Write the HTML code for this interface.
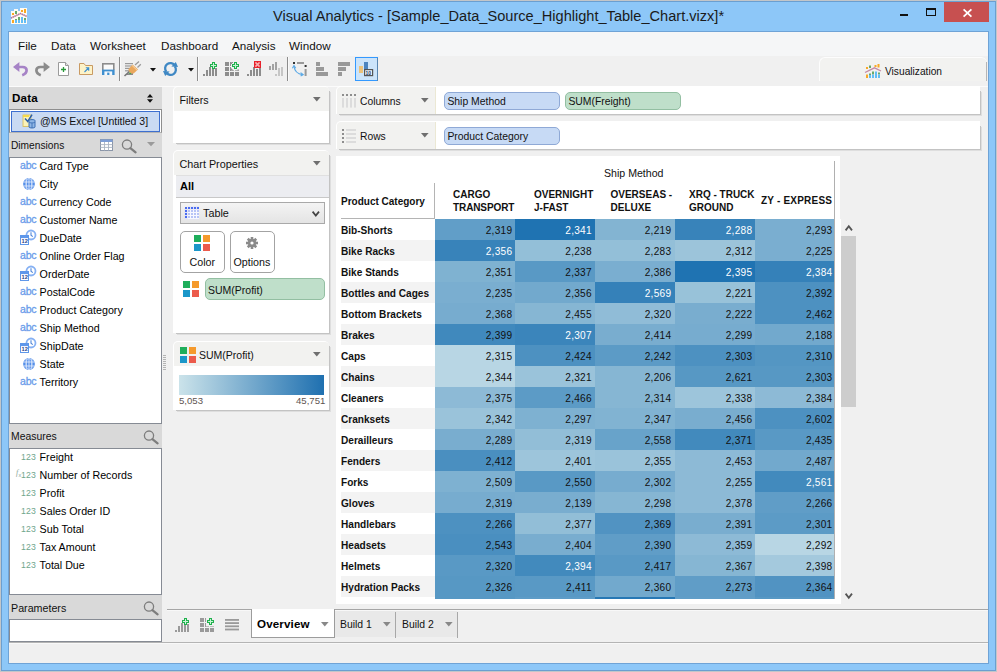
<!DOCTYPE html>
<html><head><meta charset="utf-8"><title>Visual Analytics</title>
<style>
html,body{margin:0;padding:0;}
body{width:997px;height:672px;position:relative;overflow:hidden;background:#8dc7f8;font-family:"Liberation Sans",sans-serif;}
body div, body svg{position:absolute;box-sizing:border-box;}
svg{overflow:visible;}
</style></head><body>

<div style="left:0px;top:0px;width:997px;height:672px;border:1px solid #c3c6c9;"></div>
<div style="left:1px;top:1px;width:995px;height:670px;border:1px solid #6b9fd0;"></div>
<div style="left:8px;top:31px;width:981px;height:633px;border:1px solid #6fa3d6;background:#f0f0f0;"></div>
<svg style="left:11px;top:8px" width="16" height="16" viewBox="0 0 16 16"><rect x="0" y="3" width="16" height="13" fill="#fdfbf5"/><rect x="3" y="1" width="4" height="3" fill="#fdfbf5"/><rect x="9" y="0" width="7" height="4" fill="#fdfbf5"/>
<rect x="1" y="5" width="2" height="2" fill="#f9a825"/><rect x="4" y="3" width="2" height="3" fill="#6aa96a"/><rect x="10" y="2" width="2" height="2" fill="#f9a825"/><rect x="13" y="1" width="2" height="4" fill="#f9a825"/>
<path d="M0 10 L9.5 5.5 L16 8.5" stroke="#f3b49a" stroke-width="1.4" fill="none"/><path d="M0 10 L9.5 5.5 L16 8.5" stroke="#8a6ec8" stroke-width="1.4" stroke-dasharray="1 1" fill="none"/>
<rect x="1" y="12" width="2" height="3" fill="#f9a825"/><rect x="4" y="11" width="2" height="1.5" fill="#6aa96a"/><rect x="4" y="12" width="2" height="3" fill="#62bdf5"/>
<rect x="7" y="9" width="2" height="3" fill="#6aa96a"/><rect x="7" y="12" width="2" height="3" fill="#62bdf5"/>
<rect x="10" y="9" width="2" height="6" fill="#62bdf5"/><rect x="13" y="10" width="2" height="2" fill="#6aa96a"/><rect x="13" y="12" width="2" height="3" fill="#62bdf5"/></svg>
<div style="left:273px;top:7.15px;font-size:14.58px;line-height:19px;color:#1b1b1b;white-space:nowrap;">Visual Analytics - [Sample_Data_Source_Highlight_Table_Chart.vizx]*</div>
<div style="left:900px;top:14px;width:8px;height:2px;background:#111;"></div>
<div style="left:926px;top:8px;width:10px;height:8px;border:1px solid #111;border-top-width:2px;"></div>
<div style="left:944px;top:2px;width:45px;height:20px;background:#c75050;"></div>
<svg style="left:963px;top:8.5px" width="9" height="8" viewBox="0 0 9 8"><path d="M0.6 0.4 L8.4 7.6 M8.4 0.4 L0.6 7.6" stroke="#fff" stroke-width="1.8" fill="none"/></svg>
<div style="left:9px;top:32px;width:979px;height:24px;background:#f5f6f7;"></div>
<div style="left:18px;top:38.05px;font-size:11.7px;line-height:15px;color:#111;white-space:nowrap;">File</div>
<div style="left:51px;top:38.05px;font-size:11.7px;line-height:15px;color:#111;white-space:nowrap;">Data</div>
<div style="left:90px;top:38.05px;font-size:11.7px;line-height:15px;color:#111;white-space:nowrap;">Worksheet</div>
<div style="left:161px;top:38.05px;font-size:11.7px;line-height:15px;color:#111;white-space:nowrap;">Dashboard</div>
<div style="left:232px;top:38.05px;font-size:11.7px;line-height:15px;color:#111;white-space:nowrap;">Analysis</div>
<div style="left:289px;top:38.05px;font-size:11.7px;line-height:15px;color:#111;white-space:nowrap;">Window</div>
<div style="left:9px;top:56px;width:979px;height:31px;background:#f0f0f0;"></div>
<div style="left:9px;top:86px;width:979px;height:1px;background:#fbfbfb;"></div>
<div style="left:119px;top:57px;width:1px;height:24px;background:#8c8c8c;"></div>
<div style="left:120px;top:57px;width:1px;height:24px;background:#fafafa;"></div>
<div style="left:197px;top:57px;width:1px;height:24px;background:#8c8c8c;"></div>
<div style="left:198px;top:57px;width:1px;height:24px;background:#fafafa;"></div>
<div style="left:287px;top:57px;width:1px;height:24px;background:#8c8c8c;"></div>
<div style="left:288px;top:57px;width:1px;height:24px;background:#fafafa;"></div>
<svg style="left:13px;top:62px" width="15" height="14" viewBox="0 0 15 14"><path d="M6.4 0 L0 5 L6.4 10 Z" fill="#a683c6"/><path d="M5.5 5 H9.6 C14.6 5 15.4 11 9.2 13.2" stroke="#a683c6" stroke-width="2.7" fill="none"/></svg>
<svg style="left:35px;top:62px" width="15" height="14" viewBox="0 0 15 14"><path d="M8.6 0 L15 5 L8.6 10 Z" fill="#8b8b8b"/><path d="M9.5 5 H5.4 C0.4 5 -0.4 11 5.8 13.2" stroke="#8b8b8b" stroke-width="2.7" fill="none"/></svg>
<svg style="left:58px;top:62px" width="12" height="14" viewBox="0 0 12 14"><path d="M0.5 0.5 H7.5 L10.5 3.5 V13.5 H0.5 Z" fill="#fff" stroke="#9b9b9b"/><path d="M7.5 0.5 V3.5 H10.5" fill="#e4e4e4" stroke="#9b9b9b"/><path d="M5.5 5 V10 M3 7.5 H8" stroke="#2a9a3a" stroke-width="1.3"/></svg>
<svg style="left:79px;top:63px" width="14" height="12" viewBox="0 0 14 12"><path d="M0.5 0.5 H5 L6.5 2.5 H13.5 V11.5 H0.5 Z" fill="#fdf3c8" stroke="#c99a62"/><path d="M5.5 9 L9.5 5 M6.8 4.8 H9.7 V7.7" stroke="#3b8fd0" stroke-width="1.1" fill="none"/></svg>
<svg style="left:102px;top:63px" width="13" height="12" viewBox="0 0 13 12"><path d="M0 0 H12.6 V7 H0 Z" fill="#8c8c8c"/><rect x="1.6" y="1.6" width="9.4" height="5.4" fill="#fafafa"/><path d="M0 6.6 H12.6 V12 H0 Z" fill="#3f8fcf"/><rect x="2.4" y="8.4" width="7.8" height="3.6" fill="#f4f8fc"/><rect x="5.2" y="9.6" width="2.2" height="2.4" fill="#3f8fcf"/></svg>
<svg style="left:124px;top:61px" width="17" height="16" viewBox="0 0 17 16"><rect x="1" y="2" width="8" height="1.2" fill="#9a9a9a"/><rect x="1" y="4.4" width="8" height="1.2" fill="#9a9a9a"/><rect x="1" y="6.8" width="6" height="1.2" fill="#9a9a9a"/><rect x="1" y="9.2" width="5" height="1.2" fill="#9a9a9a"/>
<path d="M1 14 L9 14 L9 10 Z" fill="#8a8a8a"/><path d="M0.5 15 L7 9" stroke="#777" stroke-width="1.6"/><rect x="5.5" y="11.5" width="1.4" height="1.4" fill="#2cc02c"/>
<path d="M11 4 L15 0.5 M13.5 6.5 L16.8 3.2" stroke="#9a9a9a" stroke-width="1.3"/>
<path d="M4.5 8.2 L8.6 3.4 L14 8.6 L9.6 12.4 C7.5 13.2 4.2 10.6 4.5 8.2 Z" fill="#eaa75c"/><path d="M8 4.4 L13 9.2" stroke="#f8d7a8" stroke-width="1"/></svg>
<svg style="left:150px;top:68px" width="6" height="3" viewBox="0 0 6 3"><path d="M0 0 H6 L3 3.4 Z" fill="#111"/></svg>
<svg style="left:163px;top:62px" width="15" height="14" viewBox="0 0 15 14"><path d="M11.6 3.2 A5.2 5.2 0 0 0 3.2 9.6" stroke="#3f88c4" stroke-width="2.3" fill="none"/><path d="M0 9 L6.6 9.4 L2.2 14 Z" fill="#3f88c4"/>
<path d="M3.4 10.8 A5.2 5.2 0 0 0 11.8 4.4" stroke="#3f88c4" stroke-width="2.3" fill="none"/><path d="M15 5 L8.4 4.6 L12.8 0 Z" fill="#3f88c4"/></svg>
<svg style="left:188px;top:68px" width="6" height="3" viewBox="0 0 6 3"><path d="M0 0 H6 L3 3.4 Z" fill="#111"/></svg>
<svg style="left:203px;top:62px" width="14" height="14" viewBox="0 0 14 14"><rect x="0" y="12" width="2" height="2" fill="#8d8d8d"/><rect x="3" y="8" width="2" height="6" fill="#8d8d8d"/><rect x="6" y="5" width="2" height="9" fill="#8d8d8d"/><rect x="9" y="7" width="2" height="7" fill="#8d8d8d"/><rect x="12" y="6" width="2" height="8" fill="#8d8d8d"/><path d="M9 0 h3 v2 h2 v3 h-2 v2 h-3 v-2 h-2 v-3 h2 z" fill="#1fb14c"/><path d="M10 1 h1 v2 h2 v1 h-2 v2 h-1 v-2 h-2 v-1 h2 z" fill="#c9f2d6"/></svg>
<svg style="left:225px;top:62px" width="14" height="14" viewBox="0 0 14 14"><rect x="0" y="0" width="4" height="4" fill="#8d8d8d"/><rect x="5" y="0" width="4" height="4" fill="#8d8d8d"/><rect x="10" y="0" width="4" height="4" fill="#8d8d8d"/><rect x="0" y="5" width="4" height="4" fill="#8d8d8d"/><rect x="5" y="5" width="4" height="4" fill="#8d8d8d"/><rect x="10" y="5" width="4" height="4" fill="#8d8d8d"/><rect x="0" y="10" width="4" height="4" fill="#8d8d8d"/><rect x="5" y="10" width="4" height="4" fill="#8d8d8d"/><rect x="10" y="10" width="4" height="4" fill="#8d8d8d"/><rect x="6" y="0" width="8.4" height="8.4" fill="#f0f0f0"/><path d="M6.5 0.5 H8 M6.5 0.5 V2 M6.5 8 V6.5 M6.5 8 H8 M14 8 H12.5" stroke="#8d8d8d" stroke-width="1" fill="none"/><path d="M9 0 h3 v2 h2 v3 h-2 v2 h-3 v-2 h-2 v-3 h2 z" fill="#1fb14c"/><path d="M10 1 h1 v2 h2 v1 h-2 v2 h-1 v-2 h-2 v-1 h2 z" fill="#c9f2d6"/></svg>
<svg style="left:247px;top:62px" width="14" height="14" viewBox="0 0 14 14"><rect x="0" y="12" width="2" height="2" fill="#8d8d8d"/><rect x="3" y="8" width="2" height="6" fill="#8d8d8d"/><rect x="6" y="5" width="2" height="9" fill="#8d8d8d"/><rect x="9" y="7" width="2" height="7" fill="#8d8d8d"/><rect x="12" y="6" width="2" height="8" fill="#8d8d8d"/><rect x="7" y="-1" width="7" height="7" fill="#e8212b"/><path d="M8.4 0.4 L12.6 4.6 M12.6 0.4 L8.4 4.6" stroke="#f8b0b0" stroke-width="1.5"/></svg>
<svg style="left:269px;top:62px" width="14" height="14" viewBox="0 0 14 14"><rect x="0" y="4" width="2" height="4" fill="#a2a2a2"/><rect x="3" y="2" width="2" height="6" fill="#a2a2a2"/><rect x="6" y="0" width="2" height="8" fill="#a2a2a2"/><rect x="6" y="12" width="2" height="2" fill="#c6c6c6"/><rect x="9" y="6" width="2" height="8" fill="#c6c6c6"/><rect x="12" y="5" width="2" height="9" fill="#c6c6c6"/></svg>
<svg style="left:292px;top:62px" width="15" height="14" viewBox="0 0 15 14"><rect x="1" y="0" width="2" height="2" fill="#333"/><rect x="5" y="0" width="7" height="2" fill="#9a9a9a"/><rect x="12.6" y="3" width="2" height="2" fill="#333"/><rect x="12.6" y="7" width="2" height="7" fill="#9a9a9a"/>
<path d="M2 4.5 C2.6 9.4 6 12 10.6 12.6" stroke="#5aa9e6" stroke-width="1.1" fill="none"/><path d="M0.4 6.2 L2 3.6 L3.8 6.2" stroke="#5aa9e6" stroke-width="1.1" fill="none"/><path d="M8.6 10.6 L11.2 12.6 L8.6 14" stroke="#5aa9e6" stroke-width="1.1" fill="none"/></svg>
<svg style="left:316px;top:62px" width="12" height="14" viewBox="0 0 12 14"><rect x="0" y="0" width="4" height="4" fill="#999"/><rect x="0" y="5" width="8" height="4" fill="#999"/><rect x="0" y="10" width="12" height="4" fill="#999"/></svg>
<svg style="left:338px;top:62px" width="12" height="14" viewBox="0 0 12 14"><rect x="0" y="0" width="12" height="4" fill="#999"/><rect x="0" y="5" width="8" height="4" fill="#999"/><rect x="0" y="10" width="4" height="4" fill="#999"/></svg>
<div style="left:355px;top:57px;width:23px;height:24px;border:1px solid #3399ff;background:#cce4fa;"></div>
<div style="left:377px;top:58px;width:1px;height:23px;background:#5a86b0;"></div>
<svg style="left:359px;top:62px" width="15" height="15" viewBox="0 0 15 15"><rect x="0" y="4" width="4" height="7" fill="#ecc27a"/><rect x="5" y="0" width="4" height="9" fill="#4d84be"/><rect x="5.6" y="7.6" width="8" height="6" fill="#eef4fb" stroke="#555" stroke-width="1.2"/><text x="6.6" y="12.6" font-size="5" font-weight="700" fill="#223a66" font-family="Liberation Sans">10</text></svg>
<div style="left:819px;top:57px;width:168px;height:24px;background:#f2f2f0;border-top:1px solid #fdfdfd;border-left:1px solid #fdfdfd;border-top-left-radius:6px;border-top-right-radius:6px;"></div>
<div style="left:986px;top:62px;width:1px;height:19px;background:#b5b5b5;"></div>
<svg style="left:865px;top:64px" width="16" height="14" viewBox="0 0 16 14"><rect x="1" y="3" width="2" height="2" fill="#f9a825"/><rect x="4" y="1.5" width="2" height="2.5" fill="#6aa96a"/><rect x="9.5" y="1" width="2" height="2" fill="#f9a825"/><rect x="12.5" y="0" width="2" height="3.5" fill="#f9a825"/>
<path d="M0 8.5 L9.5 3.8 L16 7" stroke="#c58aa6" stroke-width="1.3" fill="none"/>
<rect x="1" y="10.5" width="2" height="3.5" fill="#f9a825"/><rect x="4" y="9.5" width="2" height="1.5" fill="#6aa96a"/><rect x="4" y="11" width="2" height="3" fill="#62bdf5"/>
<rect x="7" y="7.5" width="2" height="3" fill="#6aa96a"/><rect x="7" y="10.5" width="2" height="3.5" fill="#62bdf5"/>
<rect x="10" y="7.5" width="2" height="6.5" fill="#62bdf5"/><rect x="13" y="8.5" width="2" height="2" fill="#6aa96a"/><rect x="13" y="10.5" width="2" height="3.5" fill="#62bdf5"/></svg>
<div style="left:885px;top:64.67px;font-size:10.2px;line-height:13px;color:#111;white-space:nowrap;">Visualization</div>
<div style="left:9px;top:87px;width:153px;height:22px;background:#d9d9d9;"></div>
<div style="left:12px;top:90.28px;font-size:11.6px;line-height:15px;color:#000;white-space:nowrap;font-weight:700;letter-spacing:0.2px;">Data</div>
<svg style="left:147px;top:93.5px" width="6" height="9" viewBox="0 0 6 9"><path d="M3 0 L6 3.6 H0 Z M0 5.2 H6 L3 8.8 Z" fill="#111"/></svg>
<div style="left:9px;top:109px;width:153px;height:24px;background:#fff;border:1px solid #8e8e8e;border-bottom-color:#b5b5b5;"></div>
<div style="left:11px;top:111px;width:149px;height:21px;background:#c9daf3;border:1px solid #3d6fcf;"></div>
<svg style="left:23px;top:114px" width="13" height="15" viewBox="0 0 13 15"><rect x="0" y="1" width="8" height="11.5" fill="#fbf2b8" stroke="#d8b950" stroke-width="0.8"/><rect x="0" y="1" width="6" height="2" fill="#f5d94a"/>
<path d="M2 4.5 L4.8 7.5 L9 0.6" stroke="#2d5fa8" stroke-width="1.5" fill="none"/>
<path d="M6 6.5 C6 5.3 12 5.3 12 6.5 V13 C12 14.3 6 14.3 6 13 Z" fill="#8fb6e6" stroke="#3c6fb4" stroke-width="1"/><path d="M6 8 C6 9.2 12 9.2 12 8 M9 9 V14" stroke="#3c6fb4" stroke-width="0.9" fill="none"/></svg>
<div style="left:40px;top:113.56px;font-size:10.5px;line-height:14px;color:#111;white-space:nowrap;">@MS Excel [Untitled 3]</div>
<div style="left:9px;top:133px;width:153px;height:24px;background:#d9d9d9;"></div>
<div style="left:11px;top:138.57px;font-size:10.2px;line-height:13px;color:#111;white-space:nowrap;">Dimensions</div>
<svg style="left:100px;top:139px" width="13" height="12" viewBox="0 0 13 12"><rect x="0.5" y="0.5" width="12" height="11" fill="#fff" stroke="#8b96a8"/><rect x="0.5" y="0.5" width="12" height="2.5" fill="#7c9dd6"/><path d="M0.5 5.6 H12.5 M0.5 8.4 H12.5 M4.5 3 V11.5 M8.5 3 V11.5" stroke="#a9b3c2" stroke-width="0.9"/></svg>
<svg style="left:121px;top:139px" width="16" height="14" viewBox="0 0 16 14"><circle cx="6" cy="5.6" r="4.6" fill="none" stroke="#7d7d7d" stroke-width="1.3"/><path d="M9.4 9.2 L14.6 13.4" stroke="#7d7d7d" stroke-width="2.2" stroke-linecap="round"/></svg>
<svg style="left:147px;top:142px" width="8" height="4" viewBox="0 0 8 4"><path d="M0 0 H8 L4 4.2 Z" fill="#9a9a9a"/></svg>
<div style="left:9px;top:157px;width:153px;height:267px;background:#fff;border:1px solid #868b94;"></div>
<div style="left:20px;top:157.83px;font-size:10.6px;line-height:14px;color:#6a9cea;white-space:nowrap;letter-spacing:-0.25px;-webkit-text-stroke:0.3px #6a9cea;">abc</div>
<div style="left:39.6px;top:158.79px;font-size:10.7px;line-height:14px;color:#000;white-space:nowrap;">Card Type</div>
<svg style="left:22.5px;top:177.9px" width="12" height="12" viewBox="0 0 12 12"><circle cx="6" cy="6" r="5.9" fill="#558fe9"/><path d="M0.4 4 H11.6 M0.4 8 H11.6 M3.2 0.8 V11.2 M6 0.2 V11.8 M8.8 0.8 V11.2" stroke="#dfeafc" stroke-width="0.9"/><ellipse cx="6" cy="6" rx="2.9" ry="5.6" fill="none" stroke="#dfeafc" stroke-width="0.6"/></svg>
<div style="left:39.6px;top:176.79px;font-size:10.7px;line-height:14px;color:#000;white-space:nowrap;">City</div>
<div style="left:20px;top:193.83px;font-size:10.6px;line-height:14px;color:#6a9cea;white-space:nowrap;letter-spacing:-0.25px;-webkit-text-stroke:0.3px #6a9cea;">abc</div>
<div style="left:39.6px;top:194.79px;font-size:10.7px;line-height:14px;color:#000;white-space:nowrap;">Currency Code</div>
<div style="left:20px;top:211.83px;font-size:10.6px;line-height:14px;color:#6a9cea;white-space:nowrap;letter-spacing:-0.25px;-webkit-text-stroke:0.3px #6a9cea;">abc</div>
<div style="left:39.6px;top:212.79px;font-size:10.7px;line-height:14px;color:#000;white-space:nowrap;">Customer Name</div>
<svg style="left:20px;top:230.0px" width="16" height="15" viewBox="0 0 16 15"><circle cx="11" cy="5" r="4.5" fill="#fff" stroke="#86b1f3" stroke-width="1.8"/><path d="M11 2.2 V5.2 L12.8 6.6" stroke="#4f86d9" stroke-width="1.1" fill="none"/>
<rect x="0.5" y="5.5" width="8" height="9" fill="#fff" stroke="#5f97ea"/><rect x="0.5" y="5.5" width="8" height="2.6" fill="#5f97ea"/>
<text x="1.6" y="13.2" font-size="5.6" font-weight="700" fill="#1f3f8a" font-family="Liberation Sans">12</text></svg>
<div style="left:39.6px;top:230.79px;font-size:10.7px;line-height:14px;color:#000;white-space:nowrap;">DueDate</div>
<div style="left:20px;top:247.83px;font-size:10.6px;line-height:14px;color:#6a9cea;white-space:nowrap;letter-spacing:-0.25px;-webkit-text-stroke:0.3px #6a9cea;">abc</div>
<div style="left:39.6px;top:248.79px;font-size:10.7px;line-height:14px;color:#000;white-space:nowrap;">Online Order Flag</div>
<svg style="left:20px;top:266.0px" width="16" height="15" viewBox="0 0 16 15"><circle cx="11" cy="5" r="4.5" fill="#fff" stroke="#86b1f3" stroke-width="1.8"/><path d="M11 2.2 V5.2 L12.8 6.6" stroke="#4f86d9" stroke-width="1.1" fill="none"/>
<rect x="0.5" y="5.5" width="8" height="9" fill="#fff" stroke="#5f97ea"/><rect x="0.5" y="5.5" width="8" height="2.6" fill="#5f97ea"/>
<text x="1.6" y="13.2" font-size="5.6" font-weight="700" fill="#1f3f8a" font-family="Liberation Sans">12</text></svg>
<div style="left:39.6px;top:266.79px;font-size:10.7px;line-height:14px;color:#000;white-space:nowrap;">OrderDate</div>
<div style="left:20px;top:283.83px;font-size:10.6px;line-height:14px;color:#6a9cea;white-space:nowrap;letter-spacing:-0.25px;-webkit-text-stroke:0.3px #6a9cea;">abc</div>
<div style="left:39.6px;top:284.79px;font-size:10.7px;line-height:14px;color:#000;white-space:nowrap;">PostalCode</div>
<div style="left:20px;top:301.83px;font-size:10.6px;line-height:14px;color:#6a9cea;white-space:nowrap;letter-spacing:-0.25px;-webkit-text-stroke:0.3px #6a9cea;">abc</div>
<div style="left:39.6px;top:302.79px;font-size:10.7px;line-height:14px;color:#000;white-space:nowrap;">Product Category</div>
<div style="left:20px;top:319.83px;font-size:10.6px;line-height:14px;color:#6a9cea;white-space:nowrap;letter-spacing:-0.25px;-webkit-text-stroke:0.3px #6a9cea;">abc</div>
<div style="left:39.6px;top:320.79px;font-size:10.7px;line-height:14px;color:#000;white-space:nowrap;">Ship Method</div>
<svg style="left:20px;top:338.0px" width="16" height="15" viewBox="0 0 16 15"><circle cx="11" cy="5" r="4.5" fill="#fff" stroke="#86b1f3" stroke-width="1.8"/><path d="M11 2.2 V5.2 L12.8 6.6" stroke="#4f86d9" stroke-width="1.1" fill="none"/>
<rect x="0.5" y="5.5" width="8" height="9" fill="#fff" stroke="#5f97ea"/><rect x="0.5" y="5.5" width="8" height="2.6" fill="#5f97ea"/>
<text x="1.6" y="13.2" font-size="5.6" font-weight="700" fill="#1f3f8a" font-family="Liberation Sans">12</text></svg>
<div style="left:39.6px;top:338.79px;font-size:10.7px;line-height:14px;color:#000;white-space:nowrap;">ShipDate</div>
<svg style="left:22.5px;top:357.9px" width="12" height="12" viewBox="0 0 12 12"><circle cx="6" cy="6" r="5.9" fill="#558fe9"/><path d="M0.4 4 H11.6 M0.4 8 H11.6 M3.2 0.8 V11.2 M6 0.2 V11.8 M8.8 0.8 V11.2" stroke="#dfeafc" stroke-width="0.9"/><ellipse cx="6" cy="6" rx="2.9" ry="5.6" fill="none" stroke="#dfeafc" stroke-width="0.6"/></svg>
<div style="left:39.6px;top:356.79px;font-size:10.7px;line-height:14px;color:#000;white-space:nowrap;">State</div>
<div style="left:20px;top:373.83px;font-size:10.6px;line-height:14px;color:#6a9cea;white-space:nowrap;letter-spacing:-0.25px;-webkit-text-stroke:0.3px #6a9cea;">abc</div>
<div style="left:39.6px;top:374.79px;font-size:10.7px;line-height:14px;color:#000;white-space:nowrap;">Territory</div>
<div style="left:9px;top:424px;width:153px;height:24px;background:#d9d9d9;"></div>
<div style="left:11px;top:429.90px;font-size:10.4px;line-height:14px;color:#111;white-space:nowrap;">Measures</div>
<svg style="left:143px;top:430px" width="16" height="14" viewBox="0 0 16 14"><circle cx="6" cy="5.6" r="4.6" fill="none" stroke="#7d7d7d" stroke-width="1.3"/><path d="M9.4 9.2 L14.6 13.4" stroke="#7d7d7d" stroke-width="2.2" stroke-linecap="round"/></svg>
<div style="left:9px;top:448px;width:153px;height:147px;background:#fff;border:1px solid #868b94;"></div>
<div style="left:21px;top:451.59px;font-size:8.7px;line-height:11px;color:#6fa68c;white-space:nowrap;letter-spacing:0.15px;">123</div>
<div style="left:39.6px;top:449.69px;font-size:10.7px;line-height:14px;color:#000;white-space:nowrap;">Freight</div>
<div style="left:21px;top:469.59px;font-size:8.7px;line-height:11px;color:#6fa68c;white-space:nowrap;letter-spacing:0.15px;">123</div>
<div style="left:16px;top:468.23px;font-size:8px;line-height:10px;color:#8aa89a;white-space:nowrap;font-style:italic;font-family:'Liberation Serif',serif;">f</div>
<div style="left:18.6px;top:472.39px;font-size:5.5px;line-height:7px;color:#8aa89a;white-space:nowrap;">x</div>
<div style="left:39.6px;top:467.69px;font-size:10.7px;line-height:14px;color:#000;white-space:nowrap;">Number of Records</div>
<div style="left:21px;top:487.59px;font-size:8.7px;line-height:11px;color:#6fa68c;white-space:nowrap;letter-spacing:0.15px;">123</div>
<div style="left:39.6px;top:485.69px;font-size:10.7px;line-height:14px;color:#000;white-space:nowrap;">Profit</div>
<div style="left:21px;top:505.59px;font-size:8.7px;line-height:11px;color:#6fa68c;white-space:nowrap;letter-spacing:0.15px;">123</div>
<div style="left:39.6px;top:503.69px;font-size:10.7px;line-height:14px;color:#000;white-space:nowrap;">Sales Order ID</div>
<div style="left:21px;top:523.59px;font-size:8.7px;line-height:11px;color:#6fa68c;white-space:nowrap;letter-spacing:0.15px;">123</div>
<div style="left:39.6px;top:521.69px;font-size:10.7px;line-height:14px;color:#000;white-space:nowrap;">Sub Total</div>
<div style="left:21px;top:541.59px;font-size:8.7px;line-height:11px;color:#6fa68c;white-space:nowrap;letter-spacing:0.15px;">123</div>
<div style="left:39.6px;top:539.69px;font-size:10.7px;line-height:14px;color:#000;white-space:nowrap;">Tax Amount</div>
<div style="left:21px;top:559.59px;font-size:8.7px;line-height:11px;color:#6fa68c;white-space:nowrap;letter-spacing:0.15px;">123</div>
<div style="left:39.6px;top:557.69px;font-size:10.7px;line-height:14px;color:#000;white-space:nowrap;">Total Due</div>
<div style="left:9px;top:595px;width:153px;height:24px;background:#d9d9d9;"></div>
<div style="left:11px;top:600.79px;font-size:10.7px;line-height:14px;color:#111;white-space:nowrap;">Parameters</div>
<svg style="left:143px;top:601px" width="16" height="14" viewBox="0 0 16 14"><circle cx="6" cy="5.6" r="4.6" fill="none" stroke="#7d7d7d" stroke-width="1.3"/><path d="M9.4 9.2 L14.6 13.4" stroke="#7d7d7d" stroke-width="2.2" stroke-linecap="round"/></svg>
<div style="left:9px;top:619px;width:153px;height:23px;background:#fff;border:1px solid #868b94;"></div>
<div style="left:163px;top:355px;width:3px;height:1px;background:#b4b4b4;"></div>
<div style="left:163px;top:357px;width:3px;height:1px;background:#b4b4b4;"></div>
<div style="left:163px;top:359px;width:3px;height:1px;background:#b4b4b4;"></div>
<div style="left:163px;top:361px;width:3px;height:1px;background:#b4b4b4;"></div>
<div style="left:163px;top:363px;width:3px;height:1px;background:#b4b4b4;"></div>
<div style="left:163px;top:365px;width:3px;height:1px;background:#b4b4b4;"></div>
<div style="left:163px;top:367px;width:3px;height:1px;background:#b4b4b4;"></div>
<div style="left:163px;top:369px;width:3px;height:1px;background:#b4b4b4;"></div>
<div style="left:177px;top:92px;width:154px;height:53px;background:#dedede;"></div>
<div style="left:176px;top:91px;width:154px;height:53px;background:#c3c3c3;"></div>
<div style="left:173px;top:86px;width:156px;height:57px;background:#fff;border-radius:5px 5px 0 0;"></div>
<div style="left:174px;top:87px;width:155px;height:24px;background:#f2f2f0;border-radius:4px 4px 0 0;"></div>
<div style="left:179.5px;top:92.79px;font-size:10.7px;line-height:14px;color:#111;white-space:nowrap;">Filters</div>
<svg style="left:313px;top:97px" width="8" height="5" viewBox="0 0 8 5"><path d="M0 0 H7.6 L3.8 4.6 Z" fill="#6f6f6f"/></svg>
<div style="left:177px;top:156px;width:154px;height:179px;background:#dedede;"></div>
<div style="left:176px;top:155px;width:154px;height:179px;background:#c3c3c3;"></div>
<div style="left:173px;top:150px;width:156px;height:183px;background:#fff;border-radius:5px 5px 0 0;"></div>
<div style="left:174px;top:151px;width:155px;height:24px;background:#f2f2f0;border-radius:4px 4px 0 0;"></div>
<div style="left:179.5px;top:156.76px;font-size:10.8px;line-height:14px;color:#111;white-space:nowrap;">Chart Properties</div>
<svg style="left:313px;top:161px" width="8" height="5" viewBox="0 0 8 5"><path d="M0 0 H7.6 L3.8 4.6 Z" fill="#6f6f6f"/></svg>
<div style="left:176px;top:175px;width:153px;height:23px;background:#ecedf1;border-top:1px solid #e0e0e0;border-bottom:1px solid #c8c8c8;"></div>
<div style="left:180px;top:179.39px;font-size:11px;line-height:14px;color:#000;white-space:nowrap;font-weight:700;">All</div>
<div style="left:180px;top:202px;width:145px;height:22px;border:1px solid #a9a9a9;background:linear-gradient(#f4f4f4,#e4e4e4);"></div>
<svg style="left:185px;top:206px" width="14" height="13" viewBox="0 0 14 13"><rect x="-0.5" y="2.5" width="14.5" height="11" fill="#dfe1f2"/><rect x="2.5" y="0.5" width="11.5" height="3" fill="#dfe1f2"/><rect x="2.6" y="3.6" width="11.4" height="9.4" fill="#f7f8ff"/><rect x="0" y="1" width="2" height="2" fill="#4a6cf0"/><rect x="0" y="4" width="2" height="2" fill="#4a6cf0"/><rect x="0" y="7" width="2" height="2" fill="#4a6cf0"/><rect x="0" y="10" width="2" height="2" fill="#4a6cf0"/><rect x="3" y="1" width="2" height="2" fill="#4a6cf0"/><rect x="3" y="4" width="2" height="2" fill="#b7c4f6"/><rect x="3" y="7" width="2" height="2" fill="#b7c4f6"/><rect x="3" y="10" width="2" height="2" fill="#b7c4f6"/><rect x="6" y="1" width="2" height="2" fill="#4a6cf0"/><rect x="6" y="4" width="2" height="2" fill="#b7c4f6"/><rect x="6" y="7" width="2" height="2" fill="#b7c4f6"/><rect x="6" y="10" width="2" height="2" fill="#b7c4f6"/><rect x="9" y="1" width="2" height="2" fill="#4a6cf0"/><rect x="9" y="4" width="2" height="2" fill="#b7c4f6"/><rect x="9" y="7" width="2" height="2" fill="#b7c4f6"/><rect x="9" y="10" width="2" height="2" fill="#b7c4f6"/><rect x="12" y="1" width="2" height="2" fill="#4a6cf0"/><rect x="12" y="4" width="2" height="2" fill="#b7c4f6"/><rect x="12" y="7" width="2" height="2" fill="#b7c4f6"/><rect x="12" y="10" width="2" height="2" fill="#b7c4f6"/></svg>
<div style="left:203px;top:206.26px;font-size:10.8px;line-height:14px;color:#111;white-space:nowrap;">Table</div>
<svg style="left:312px;top:211px" width="8" height="6" viewBox="0 0 8 6"><path d="M0.6 0.6 L3.8 4.6 L7 0.6" stroke="#444" stroke-width="1.7" fill="none"/></svg>
<div style="left:180px;top:231px;width:45px;height:42px;border:1px solid #a3a3a3;border-radius:5px;background:#fff;"></div>
<svg style="left:194px;top:235px" width="16" height="16" viewBox="0 0 16 16"><rect x="0" y="0" width="7" height="7" fill="#1fae5b"/><rect x="9" y="0" width="7" height="7" fill="#f59a2c"/><rect x="0" y="9" width="7" height="7" fill="#1b97c9"/><rect x="9" y="9" width="7" height="7" fill="#ec5b4c"/></svg>
<div style="left:189.5px;top:254.99px;font-size:10.7px;line-height:14px;color:#111;white-space:nowrap;">Color</div>
<div style="left:230px;top:231px;width:45px;height:42px;border:1px solid #a3a3a3;border-radius:5px;background:#fff;"></div>
<svg style="left:246px;top:237px" width="12" height="12" viewBox="0 0 12 12"><g transform="translate(6,6)"><rect x="-1.3" y="-6" width="2.6" height="3" fill="#8a8a8a" transform="rotate(0)"/><rect x="-1.3" y="-6" width="2.6" height="3" fill="#8a8a8a" transform="rotate(45)"/><rect x="-1.3" y="-6" width="2.6" height="3" fill="#8a8a8a" transform="rotate(90)"/><rect x="-1.3" y="-6" width="2.6" height="3" fill="#8a8a8a" transform="rotate(135)"/><rect x="-1.3" y="-6" width="2.6" height="3" fill="#8a8a8a" transform="rotate(180)"/><rect x="-1.3" y="-6" width="2.6" height="3" fill="#8a8a8a" transform="rotate(225)"/><rect x="-1.3" y="-6" width="2.6" height="3" fill="#8a8a8a" transform="rotate(270)"/><rect x="-1.3" y="-6" width="2.6" height="3" fill="#8a8a8a" transform="rotate(315)"/><circle r="4.2" fill="#8a8a8a"/><circle r="1.6" fill="#fff"/></g></svg>
<div style="left:233.5px;top:254.99px;font-size:10.7px;line-height:14px;color:#111;white-space:nowrap;">Options</div>
<svg style="left:183px;top:281px" width="16" height="16" viewBox="0 0 16 16"><rect x="0" y="0" width="7" height="7" fill="#1fae5b"/><rect x="9" y="0" width="7" height="7" fill="#f59a2c"/><rect x="0" y="9" width="7" height="7" fill="#1b97c9"/><rect x="9" y="9" width="7" height="7" fill="#ec5b4c"/></svg>
<div style="left:205px;top:278px;width:120px;height:22px;border:1px solid #93bfa2;border-radius:5px;background:#bfdfca;"></div>
<div style="left:208px;top:282.66px;font-size:10.5px;line-height:14px;color:#111;white-space:nowrap;">SUM(Profit)</div>
<div style="left:177px;top:347px;width:154px;height:65px;background:#dedede;"></div>
<div style="left:176px;top:346px;width:154px;height:65px;background:#c3c3c3;"></div>
<div style="left:173px;top:341px;width:156px;height:69px;background:#fff;border-radius:5px 5px 0 0;"></div>
<div style="left:174px;top:342px;width:155px;height:24px;background:#f2f2f0;border-radius:4px 4px 0 0;"></div>
<svg style="left:180px;top:347px" width="16" height="16" viewBox="0 0 16 16"><rect x="0" y="0" width="7" height="7" fill="#1fae5b"/><rect x="9" y="0" width="7" height="7" fill="#f59a2c"/><rect x="0" y="9" width="7" height="7" fill="#1b97c9"/><rect x="9" y="9" width="7" height="7" fill="#ec5b4c"/></svg>
<div style="left:199px;top:347.96px;font-size:10.5px;line-height:14px;color:#111;white-space:nowrap;">SUM(Profit)</div>
<svg style="left:313px;top:352px" width="8" height="5" viewBox="0 0 8 5"><path d="M0 0 H7.6 L3.8 4.6 Z" fill="#6f6f6f"/></svg>
<div style="left:179px;top:375px;width:145px;height:20px;background:linear-gradient(90deg,#cbe3ea,#1f70b0);"></div>
<div style="left:179px;top:395.27px;font-size:9.6px;line-height:12px;color:#5d5450;white-space:nowrap;">5,053</div>
<div style="left:296px;top:395.27px;font-size:9.6px;line-height:12px;color:#5d5450;white-space:nowrap;">45,751</div>
<div style="left:340px;top:92px;width:642px;height:24px;background:#dedede;"></div>
<div style="left:339px;top:91px;width:642px;height:24px;background:#c3c3c3;"></div>
<div style="left:336px;top:86px;width:644px;height:28px;background:#fff;border-radius:5px 0 0 0;"></div>
<div style="left:337px;top:87px;width:99px;height:27px;background:#f2f2f0;border-radius:4px 0 0 0;"></div>
<div style="left:436px;top:87px;width:544px;height:27px;background:#fff;"></div>
<div style="left:435px;top:87px;width:1px;height:27px;background:#ebe8d4;"></div>
<svg style="left:342px;top:94px" width="14" height="13" viewBox="0 0 14 13"><rect x="0" y="0" width="2" height="2" fill="#8e8e8e"/><rect x="0" y="4" width="2" height="9.6" fill="#dcdcdc"/><rect x="4" y="0" width="2" height="2" fill="#8e8e8e"/><rect x="4" y="4" width="2" height="9.6" fill="#dcdcdc"/><rect x="8" y="0" width="2" height="2" fill="#8e8e8e"/><rect x="8" y="4" width="2" height="9.6" fill="#dcdcdc"/><rect x="12" y="0" width="2" height="2" fill="#8e8e8e"/><rect x="12" y="4" width="2" height="9.6" fill="#dcdcdc"/></svg>
<div style="left:360px;top:94.93px;font-size:10.3px;line-height:13px;color:#111;white-space:nowrap;">Columns</div>
<svg style="left:421px;top:98px" width="8" height="5" viewBox="0 0 8 5"><path d="M0 0 H7.6 L3.8 4.6 Z" fill="#6f6f6f"/></svg>
<div style="left:444px;top:92px;width:116px;height:18px;border:1px solid #8fa9d6;background:#c7daf5;border-radius:5px;"></div>
<div style="left:447.4px;top:95.10px;font-size:10.4px;line-height:14px;color:#111;white-space:nowrap;">Ship Method</div>
<div style="left:565px;top:92px;width:116px;height:18px;border:1px solid #93bfa2;background:#bfdfca;border-radius:5px;"></div>
<div style="left:568.4px;top:95.10px;font-size:10.4px;line-height:14px;color:#111;white-space:nowrap;">SUM(Freight)</div>
<div style="left:340px;top:127px;width:642px;height:24px;background:#dedede;"></div>
<div style="left:339px;top:126px;width:642px;height:24px;background:#c3c3c3;"></div>
<div style="left:336px;top:121px;width:644px;height:28px;background:#fff;border-radius:5px 0 0 0;"></div>
<div style="left:337px;top:122px;width:99px;height:27px;background:#f2f2f0;border-radius:4px 0 0 0;"></div>
<div style="left:436px;top:122px;width:544px;height:27px;background:#fff;"></div>
<div style="left:435px;top:122px;width:1px;height:27px;background:#ebe8d4;"></div>
<svg style="left:342px;top:129px" width="14" height="13" viewBox="0 0 14 13"><rect x="0" y="0" width="2" height="2" fill="#8e8e8e"/><rect x="4" y="0" width="10" height="2" fill="#dcdcdc"/><rect x="0" y="4" width="2" height="2" fill="#8e8e8e"/><rect x="4" y="4" width="10" height="2" fill="#dcdcdc"/><rect x="0" y="8" width="2" height="2" fill="#8e8e8e"/><rect x="4" y="8" width="10" height="2" fill="#dcdcdc"/><rect x="0" y="12" width="2" height="2" fill="#8e8e8e"/><rect x="4" y="12" width="10" height="2" fill="#dcdcdc"/></svg>
<div style="left:360px;top:129.93px;font-size:10.3px;line-height:13px;color:#111;white-space:nowrap;">Rows</div>
<svg style="left:421px;top:133px" width="8" height="5" viewBox="0 0 8 5"><path d="M0 0 H7.6 L3.8 4.6 Z" fill="#6f6f6f"/></svg>
<div style="left:444px;top:127px;width:116px;height:18px;border:1px solid #8fa9d6;background:#c7daf5;border-radius:5px;"></div>
<div style="left:447.4px;top:130.10px;font-size:10.4px;line-height:14px;color:#111;white-space:nowrap;">Product Category</div>
<div style="left:336px;top:156px;width:504px;height:63px;background:#fff;"></div>
<div style="left:336px;top:219px;width:505px;height:385px;background:#fff;"></div>
<div style="left:604px;top:165.93px;font-size:10.6px;line-height:14px;color:#111;white-space:nowrap;">Ship Method</div>
<div style="left:341px;top:194.53px;font-size:10px;line-height:13px;color:#111;white-space:nowrap;font-weight:700;">Product Category</div>
<div style="left:434px;top:183px;width:1px;height:36px;background:#b4b4b4;"></div>
<div style="left:341px;top:218px;width:94px;height:1px;background:#b4b4b4;"></div>
<div style="left:834px;top:161px;width:1px;height:438px;background:#b0b0b0;"></div>
<div style="left:453px;top:187.63px;font-size:10px;line-height:13px;color:#111;white-space:nowrap;font-weight:700;">CARGO</div>
<div style="left:453px;top:201.03px;font-size:10px;line-height:13px;color:#111;white-space:nowrap;font-weight:700;letter-spacing:-0.1px;">TRANSPORT</div>
<div style="left:534px;top:187.63px;font-size:10px;line-height:13px;color:#111;white-space:nowrap;font-weight:700;">OVERNIGHT</div>
<div style="left:534px;top:201.03px;font-size:10px;line-height:13px;color:#111;white-space:nowrap;font-weight:700;">J-FAST</div>
<div style="left:610.5px;top:187.63px;font-size:10px;line-height:13px;color:#111;white-space:nowrap;font-weight:700;">OVERSEAS -</div>
<div style="left:610.5px;top:201.03px;font-size:10px;line-height:13px;color:#111;white-space:nowrap;font-weight:700;">DELUXE</div>
<div style="left:689px;top:187.63px;font-size:10px;line-height:13px;color:#111;white-space:nowrap;font-weight:700;">XRQ - TRUCK</div>
<div style="left:689px;top:201.03px;font-size:10px;line-height:13px;color:#111;white-space:nowrap;font-weight:700;">GROUND</div>
<div style="left:761px;top:194.44px;font-size:10px;line-height:13px;color:#111;white-space:nowrap;font-weight:700;letter-spacing:0.2px;">ZY - EXPRESS</div>
<div style="left:341px;top:223.80px;font-size:10.1px;line-height:13px;color:#111;white-space:nowrap;font-weight:700;">Bib-Shorts</div>
<div style="left:435px;top:219px;width:80px;height:21px;background:#619ec8;"></div>
<div style="left:452px;top:223.60px;font-size:10.1px;line-height:13px;color:#111;white-space:nowrap;letter-spacing:0.25px;width:60.25px;text-align:right;">2,319</div>
<div style="left:515px;top:219px;width:80px;height:21px;background:#1f73b2;"></div>
<div style="left:531.6px;top:223.60px;font-size:10.1px;line-height:13px;color:#fff;white-space:nowrap;letter-spacing:0.25px;width:60.25px;text-align:right;">2,341</div>
<div style="left:595px;top:219px;width:80px;height:21px;background:#83b4d2;"></div>
<div style="left:611px;top:223.60px;font-size:10.1px;line-height:13px;color:#111;white-space:nowrap;letter-spacing:0.25px;width:60.25px;text-align:right;">2,219</div>
<div style="left:675px;top:219px;width:80px;height:21px;background:#3883ba;"></div>
<div style="left:692px;top:223.60px;font-size:10.1px;line-height:13px;color:#fff;white-space:nowrap;letter-spacing:0.25px;width:60.25px;text-align:right;">2,288</div>
<div style="left:755px;top:219px;width:79px;height:21px;background:#7aaed0;"></div>
<div style="left:772.2px;top:223.60px;font-size:10.1px;line-height:13px;color:#111;white-space:nowrap;letter-spacing:0.25px;width:60.25px;text-align:right;">2,293</div>
<div style="left:341px;top:240px;width:94px;height:21px;background:#f3f3f3;"></div>
<div style="left:341px;top:244.80px;font-size:10.1px;line-height:13px;color:#111;white-space:nowrap;font-weight:700;">Bike Racks</div>
<div style="left:435px;top:240px;width:80px;height:21px;background:#3883ba;"></div>
<div style="left:452px;top:244.60px;font-size:10.1px;line-height:13px;color:#fff;white-space:nowrap;letter-spacing:0.25px;width:60.25px;text-align:right;">2,356</div>
<div style="left:515px;top:240px;width:80px;height:21px;background:#93bfd8;"></div>
<div style="left:531.6px;top:244.60px;font-size:10.1px;line-height:13px;color:#111;white-space:nowrap;letter-spacing:0.25px;width:60.25px;text-align:right;">2,238</div>
<div style="left:595px;top:240px;width:80px;height:21px;background:#93bfd8;"></div>
<div style="left:611px;top:244.60px;font-size:10.1px;line-height:13px;color:#111;white-space:nowrap;letter-spacing:0.25px;width:60.25px;text-align:right;">2,283</div>
<div style="left:675px;top:240px;width:80px;height:21px;background:#9cc4da;"></div>
<div style="left:692px;top:244.60px;font-size:10.1px;line-height:13px;color:#111;white-space:nowrap;letter-spacing:0.25px;width:60.25px;text-align:right;">2,312</div>
<div style="left:755px;top:240px;width:79px;height:21px;background:#7aaed0;"></div>
<div style="left:772.2px;top:244.60px;font-size:10.1px;line-height:13px;color:#111;white-space:nowrap;letter-spacing:0.25px;width:60.25px;text-align:right;">2,225</div>
<div style="left:341px;top:265.80px;font-size:10.1px;line-height:13px;color:#111;white-space:nowrap;font-weight:700;">Bike Stands</div>
<div style="left:435px;top:261px;width:80px;height:21px;background:#7fb2d1;"></div>
<div style="left:452px;top:265.60px;font-size:10.1px;line-height:13px;color:#111;white-space:nowrap;letter-spacing:0.25px;width:60.25px;text-align:right;">2,351</div>
<div style="left:515px;top:261px;width:80px;height:21px;background:#5999c5;"></div>
<div style="left:531.6px;top:265.60px;font-size:10.1px;line-height:13px;color:#111;white-space:nowrap;letter-spacing:0.25px;width:60.25px;text-align:right;">2,337</div>
<div style="left:595px;top:261px;width:80px;height:21px;background:#7aaed0;"></div>
<div style="left:611px;top:265.60px;font-size:10.1px;line-height:13px;color:#111;white-space:nowrap;letter-spacing:0.25px;width:60.25px;text-align:right;">2,386</div>
<div style="left:675px;top:261px;width:80px;height:21px;background:#1f73b2;"></div>
<div style="left:692px;top:265.60px;font-size:10.1px;line-height:13px;color:#fff;white-space:nowrap;letter-spacing:0.25px;width:60.25px;text-align:right;">2,395</div>
<div style="left:755px;top:261px;width:79px;height:21px;background:#3581b9;"></div>
<div style="left:772.2px;top:265.60px;font-size:10.1px;line-height:13px;color:#fff;white-space:nowrap;letter-spacing:0.25px;width:60.25px;text-align:right;">2,384</div>
<div style="left:341px;top:282px;width:94px;height:21px;background:#f3f3f3;"></div>
<div style="left:341px;top:286.80px;font-size:10.1px;line-height:13px;color:#111;white-space:nowrap;font-weight:700;">Bottles and Cages</div>
<div style="left:435px;top:282px;width:80px;height:21px;background:#7aaed0;"></div>
<div style="left:452px;top:286.60px;font-size:10.1px;line-height:13px;color:#111;white-space:nowrap;letter-spacing:0.25px;width:60.25px;text-align:right;">2,235</div>
<div style="left:515px;top:282px;width:80px;height:21px;background:#72a9cd;"></div>
<div style="left:531.6px;top:286.60px;font-size:10.1px;line-height:13px;color:#111;white-space:nowrap;letter-spacing:0.25px;width:60.25px;text-align:right;">2,356</div>
<div style="left:595px;top:282px;width:80px;height:21px;background:#3581b9;"></div>
<div style="left:611px;top:286.60px;font-size:10.1px;line-height:13px;color:#fff;white-space:nowrap;letter-spacing:0.25px;width:60.25px;text-align:right;">2,569</div>
<div style="left:675px;top:282px;width:80px;height:21px;background:#98c2d9;"></div>
<div style="left:692px;top:286.60px;font-size:10.1px;line-height:13px;color:#111;white-space:nowrap;letter-spacing:0.25px;width:60.25px;text-align:right;">2,221</div>
<div style="left:755px;top:282px;width:79px;height:21px;background:#4d91c1;"></div>
<div style="left:772.2px;top:286.60px;font-size:10.1px;line-height:13px;color:#111;white-space:nowrap;letter-spacing:0.25px;width:60.25px;text-align:right;">2,392</div>
<div style="left:341px;top:307.80px;font-size:10.1px;line-height:13px;color:#111;white-space:nowrap;font-weight:700;">Bottom Brackets</div>
<div style="left:435px;top:303px;width:80px;height:21px;background:#77accf;"></div>
<div style="left:452px;top:307.60px;font-size:10.1px;line-height:13px;color:#111;white-space:nowrap;letter-spacing:0.25px;width:60.25px;text-align:right;">2,368</div>
<div style="left:515px;top:303px;width:80px;height:21px;background:#86b6d3;"></div>
<div style="left:531.6px;top:307.60px;font-size:10.1px;line-height:13px;color:#111;white-space:nowrap;letter-spacing:0.25px;width:60.25px;text-align:right;">2,455</div>
<div style="left:595px;top:303px;width:80px;height:21px;background:#90bcd7;"></div>
<div style="left:611px;top:307.60px;font-size:10.1px;line-height:13px;color:#111;white-space:nowrap;letter-spacing:0.25px;width:60.25px;text-align:right;">2,320</div>
<div style="left:675px;top:303px;width:80px;height:21px;background:#79adcf;"></div>
<div style="left:692px;top:307.60px;font-size:10.1px;line-height:13px;color:#111;white-space:nowrap;letter-spacing:0.25px;width:60.25px;text-align:right;">2,222</div>
<div style="left:755px;top:303px;width:79px;height:21px;background:#4d91c1;"></div>
<div style="left:772.2px;top:307.60px;font-size:10.1px;line-height:13px;color:#111;white-space:nowrap;letter-spacing:0.25px;width:60.25px;text-align:right;">2,462</div>
<div style="left:341px;top:324px;width:94px;height:21px;background:#f3f3f3;"></div>
<div style="left:341px;top:328.80px;font-size:10.1px;line-height:13px;color:#111;white-space:nowrap;font-weight:700;">Brakes</div>
<div style="left:435px;top:324px;width:80px;height:21px;background:#4089bd;"></div>
<div style="left:452px;top:328.60px;font-size:10.1px;line-height:13px;color:#111;white-space:nowrap;letter-spacing:0.25px;width:60.25px;text-align:right;">2,399</div>
<div style="left:515px;top:324px;width:80px;height:21px;background:#3b85bb;"></div>
<div style="left:531.6px;top:328.60px;font-size:10.1px;line-height:13px;color:#fff;white-space:nowrap;letter-spacing:0.25px;width:60.25px;text-align:right;">2,307</div>
<div style="left:595px;top:324px;width:80px;height:21px;background:#79adcf;"></div>
<div style="left:611px;top:328.60px;font-size:10.1px;line-height:13px;color:#111;white-space:nowrap;letter-spacing:0.25px;width:60.25px;text-align:right;">2,414</div>
<div style="left:675px;top:324px;width:80px;height:21px;background:#77accf;"></div>
<div style="left:692px;top:328.60px;font-size:10.1px;line-height:13px;color:#111;white-space:nowrap;letter-spacing:0.25px;width:60.25px;text-align:right;">2,299</div>
<div style="left:755px;top:324px;width:79px;height:21px;background:#72a9cd;"></div>
<div style="left:772.2px;top:328.60px;font-size:10.1px;line-height:13px;color:#111;white-space:nowrap;letter-spacing:0.25px;width:60.25px;text-align:right;">2,188</div>
<div style="left:341px;top:349.80px;font-size:10.1px;line-height:13px;color:#111;white-space:nowrap;font-weight:700;">Caps</div>
<div style="left:435px;top:345px;width:80px;height:21px;background:#b8d6e4;"></div>
<div style="left:452px;top:349.60px;font-size:10.1px;line-height:13px;color:#111;white-space:nowrap;letter-spacing:0.25px;width:60.25px;text-align:right;">2,315</div>
<div style="left:515px;top:345px;width:80px;height:21px;background:#4d91c1;"></div>
<div style="left:531.6px;top:349.60px;font-size:10.1px;line-height:13px;color:#111;white-space:nowrap;letter-spacing:0.25px;width:60.25px;text-align:right;">2,424</div>
<div style="left:595px;top:345px;width:80px;height:21px;background:#5c9bc6;"></div>
<div style="left:611px;top:349.60px;font-size:10.1px;line-height:13px;color:#111;white-space:nowrap;letter-spacing:0.25px;width:60.25px;text-align:right;">2,242</div>
<div style="left:675px;top:345px;width:80px;height:21px;background:#4d91c1;"></div>
<div style="left:692px;top:349.60px;font-size:10.1px;line-height:13px;color:#111;white-space:nowrap;letter-spacing:0.25px;width:60.25px;text-align:right;">2,303</div>
<div style="left:755px;top:345px;width:79px;height:21px;background:#5496c3;"></div>
<div style="left:772.2px;top:349.60px;font-size:10.1px;line-height:13px;color:#111;white-space:nowrap;letter-spacing:0.25px;width:60.25px;text-align:right;">2,310</div>
<div style="left:341px;top:366px;width:94px;height:21px;background:#f3f3f3;"></div>
<div style="left:341px;top:370.80px;font-size:10.1px;line-height:13px;color:#111;white-space:nowrap;font-weight:700;">Chains</div>
<div style="left:435px;top:366px;width:80px;height:21px;background:#b8d6e4;"></div>
<div style="left:452px;top:370.60px;font-size:10.1px;line-height:13px;color:#111;white-space:nowrap;letter-spacing:0.25px;width:60.25px;text-align:right;">2,344</div>
<div style="left:515px;top:366px;width:80px;height:21px;background:#9ac3da;"></div>
<div style="left:531.6px;top:370.60px;font-size:10.1px;line-height:13px;color:#111;white-space:nowrap;letter-spacing:0.25px;width:60.25px;text-align:right;">2,321</div>
<div style="left:595px;top:366px;width:80px;height:21px;background:#86b6d3;"></div>
<div style="left:611px;top:370.60px;font-size:10.1px;line-height:13px;color:#111;white-space:nowrap;letter-spacing:0.25px;width:60.25px;text-align:right;">2,206</div>
<div style="left:675px;top:366px;width:80px;height:21px;background:#5798c4;"></div>
<div style="left:692px;top:370.60px;font-size:10.1px;line-height:13px;color:#111;white-space:nowrap;letter-spacing:0.25px;width:60.25px;text-align:right;">2,621</div>
<div style="left:755px;top:366px;width:79px;height:21px;background:#5798c4;"></div>
<div style="left:772.2px;top:370.60px;font-size:10.1px;line-height:13px;color:#111;white-space:nowrap;letter-spacing:0.25px;width:60.25px;text-align:right;">2,303</div>
<div style="left:341px;top:391.80px;font-size:10.1px;line-height:13px;color:#111;white-space:nowrap;font-weight:700;">Cleaners</div>
<div style="left:435px;top:387px;width:80px;height:21px;background:#8dbad6;"></div>
<div style="left:452px;top:391.60px;font-size:10.1px;line-height:13px;color:#111;white-space:nowrap;letter-spacing:0.25px;width:60.25px;text-align:right;">2,375</div>
<div style="left:515px;top:387px;width:80px;height:21px;background:#5c9bc6;"></div>
<div style="left:531.6px;top:391.60px;font-size:10.1px;line-height:13px;color:#111;white-space:nowrap;letter-spacing:0.25px;width:60.25px;text-align:right;">2,466</div>
<div style="left:595px;top:387px;width:80px;height:21px;background:#86b6d3;"></div>
<div style="left:611px;top:391.60px;font-size:10.1px;line-height:13px;color:#111;white-space:nowrap;letter-spacing:0.25px;width:60.25px;text-align:right;">2,314</div>
<div style="left:675px;top:387px;width:80px;height:21px;background:#9dc5db;"></div>
<div style="left:692px;top:391.60px;font-size:10.1px;line-height:13px;color:#111;white-space:nowrap;letter-spacing:0.25px;width:60.25px;text-align:right;">2,338</div>
<div style="left:755px;top:387px;width:79px;height:21px;background:#8dbad6;"></div>
<div style="left:772.2px;top:391.60px;font-size:10.1px;line-height:13px;color:#111;white-space:nowrap;letter-spacing:0.25px;width:60.25px;text-align:right;">2,384</div>
<div style="left:341px;top:408px;width:94px;height:21px;background:#f3f3f3;"></div>
<div style="left:341px;top:412.80px;font-size:10.1px;line-height:13px;color:#111;white-space:nowrap;font-weight:700;">Cranksets</div>
<div style="left:435px;top:408px;width:80px;height:21px;background:#9ac3da;"></div>
<div style="left:452px;top:412.60px;font-size:10.1px;line-height:13px;color:#111;white-space:nowrap;letter-spacing:0.25px;width:60.25px;text-align:right;">2,342</div>
<div style="left:515px;top:408px;width:80px;height:21px;background:#7eb1d1;"></div>
<div style="left:531.6px;top:412.60px;font-size:10.1px;line-height:13px;color:#111;white-space:nowrap;letter-spacing:0.25px;width:60.25px;text-align:right;">2,297</div>
<div style="left:595px;top:408px;width:80px;height:21px;background:#81b3d2;"></div>
<div style="left:611px;top:412.60px;font-size:10.1px;line-height:13px;color:#111;white-space:nowrap;letter-spacing:0.25px;width:60.25px;text-align:right;">2,347</div>
<div style="left:675px;top:408px;width:80px;height:21px;background:#79adcf;"></div>
<div style="left:692px;top:412.60px;font-size:10.1px;line-height:13px;color:#111;white-space:nowrap;letter-spacing:0.25px;width:60.25px;text-align:right;">2,456</div>
<div style="left:755px;top:408px;width:79px;height:21px;background:#4d91c1;"></div>
<div style="left:772.2px;top:412.60px;font-size:10.1px;line-height:13px;color:#111;white-space:nowrap;letter-spacing:0.25px;width:60.25px;text-align:right;">2,602</div>
<div style="left:341px;top:433.80px;font-size:10.1px;line-height:13px;color:#111;white-space:nowrap;font-weight:700;">Derailleurs</div>
<div style="left:435px;top:429px;width:80px;height:21px;background:#79adcf;"></div>
<div style="left:452px;top:433.60px;font-size:10.1px;line-height:13px;color:#111;white-space:nowrap;letter-spacing:0.25px;width:60.25px;text-align:right;">2,289</div>
<div style="left:515px;top:429px;width:80px;height:21px;background:#92bed7;"></div>
<div style="left:531.6px;top:433.60px;font-size:10.1px;line-height:13px;color:#111;white-space:nowrap;letter-spacing:0.25px;width:60.25px;text-align:right;">2,319</div>
<div style="left:595px;top:429px;width:80px;height:21px;background:#68a3ca;"></div>
<div style="left:611px;top:433.60px;font-size:10.1px;line-height:13px;color:#111;white-space:nowrap;letter-spacing:0.25px;width:60.25px;text-align:right;">2,558</div>
<div style="left:675px;top:429px;width:80px;height:21px;background:#428abd;"></div>
<div style="left:692px;top:433.60px;font-size:10.1px;line-height:13px;color:#111;white-space:nowrap;letter-spacing:0.25px;width:60.25px;text-align:right;">2,371</div>
<div style="left:755px;top:429px;width:79px;height:21px;background:#5999c5;"></div>
<div style="left:772.2px;top:433.60px;font-size:10.1px;line-height:13px;color:#111;white-space:nowrap;letter-spacing:0.25px;width:60.25px;text-align:right;">2,435</div>
<div style="left:341px;top:450px;width:94px;height:21px;background:#f3f3f3;"></div>
<div style="left:341px;top:454.80px;font-size:10.1px;line-height:13px;color:#111;white-space:nowrap;font-weight:700;">Fenders</div>
<div style="left:435px;top:450px;width:80px;height:21px;background:#4a8fc0;"></div>
<div style="left:452px;top:454.60px;font-size:10.1px;line-height:13px;color:#111;white-space:nowrap;letter-spacing:0.25px;width:60.25px;text-align:right;">2,412</div>
<div style="left:515px;top:450px;width:80px;height:21px;background:#9dc5db;"></div>
<div style="left:531.6px;top:454.60px;font-size:10.1px;line-height:13px;color:#111;white-space:nowrap;letter-spacing:0.25px;width:60.25px;text-align:right;">2,401</div>
<div style="left:595px;top:450px;width:80px;height:21px;background:#9ac3da;"></div>
<div style="left:611px;top:454.60px;font-size:10.1px;line-height:13px;color:#111;white-space:nowrap;letter-spacing:0.25px;width:60.25px;text-align:right;">2,355</div>
<div style="left:675px;top:450px;width:80px;height:21px;background:#8dbad6;"></div>
<div style="left:692px;top:454.60px;font-size:10.1px;line-height:13px;color:#111;white-space:nowrap;letter-spacing:0.25px;width:60.25px;text-align:right;">2,453</div>
<div style="left:755px;top:450px;width:79px;height:21px;background:#72a9cd;"></div>
<div style="left:772.2px;top:454.60px;font-size:10.1px;line-height:13px;color:#111;white-space:nowrap;letter-spacing:0.25px;width:60.25px;text-align:right;">2,487</div>
<div style="left:341px;top:475.80px;font-size:10.1px;line-height:13px;color:#111;white-space:nowrap;font-weight:700;">Forks</div>
<div style="left:435px;top:471px;width:80px;height:21px;background:#7eb1d1;"></div>
<div style="left:452px;top:475.60px;font-size:10.1px;line-height:13px;color:#111;white-space:nowrap;letter-spacing:0.25px;width:60.25px;text-align:right;">2,509</div>
<div style="left:515px;top:471px;width:80px;height:21px;background:#5999c5;"></div>
<div style="left:531.6px;top:475.60px;font-size:10.1px;line-height:13px;color:#111;white-space:nowrap;letter-spacing:0.25px;width:60.25px;text-align:right;">2,550</div>
<div style="left:595px;top:471px;width:80px;height:21px;background:#77accf;"></div>
<div style="left:611px;top:475.60px;font-size:10.1px;line-height:13px;color:#111;white-space:nowrap;letter-spacing:0.25px;width:60.25px;text-align:right;">2,302</div>
<div style="left:675px;top:471px;width:80px;height:21px;background:#8dbad6;"></div>
<div style="left:692px;top:475.60px;font-size:10.1px;line-height:13px;color:#111;white-space:nowrap;letter-spacing:0.25px;width:60.25px;text-align:right;">2,255</div>
<div style="left:755px;top:471px;width:79px;height:21px;background:#428abd;"></div>
<div style="left:772.2px;top:475.60px;font-size:10.1px;line-height:13px;color:#fff;white-space:nowrap;letter-spacing:0.25px;width:60.25px;text-align:right;">2,561</div>
<div style="left:341px;top:492px;width:94px;height:21px;background:#f3f3f3;"></div>
<div style="left:341px;top:496.80px;font-size:10.1px;line-height:13px;color:#111;white-space:nowrap;font-weight:700;">Gloves</div>
<div style="left:435px;top:492px;width:80px;height:21px;background:#77accf;"></div>
<div style="left:452px;top:496.60px;font-size:10.1px;line-height:13px;color:#111;white-space:nowrap;letter-spacing:0.25px;width:60.25px;text-align:right;">2,319</div>
<div style="left:515px;top:492px;width:80px;height:21px;background:#79adcf;"></div>
<div style="left:531.6px;top:496.60px;font-size:10.1px;line-height:13px;color:#111;white-space:nowrap;letter-spacing:0.25px;width:60.25px;text-align:right;">2,139</div>
<div style="left:595px;top:492px;width:80px;height:21px;background:#86b6d3;"></div>
<div style="left:611px;top:496.60px;font-size:10.1px;line-height:13px;color:#111;white-space:nowrap;letter-spacing:0.25px;width:60.25px;text-align:right;">2,298</div>
<div style="left:675px;top:492px;width:80px;height:21px;background:#8dbad6;"></div>
<div style="left:692px;top:496.60px;font-size:10.1px;line-height:13px;color:#111;white-space:nowrap;letter-spacing:0.25px;width:60.25px;text-align:right;">2,378</div>
<div style="left:755px;top:492px;width:79px;height:21px;background:#609dc7;"></div>
<div style="left:772.2px;top:496.60px;font-size:10.1px;line-height:13px;color:#111;white-space:nowrap;letter-spacing:0.25px;width:60.25px;text-align:right;">2,266</div>
<div style="left:341px;top:517.80px;font-size:10.1px;line-height:13px;color:#111;white-space:nowrap;font-weight:700;">Handlebars</div>
<div style="left:435px;top:513px;width:80px;height:21px;background:#4d91c1;"></div>
<div style="left:452px;top:517.60px;font-size:10.1px;line-height:13px;color:#111;white-space:nowrap;letter-spacing:0.25px;width:60.25px;text-align:right;">2,266</div>
<div style="left:515px;top:513px;width:80px;height:21px;background:#92bed7;"></div>
<div style="left:531.6px;top:517.60px;font-size:10.1px;line-height:13px;color:#111;white-space:nowrap;letter-spacing:0.25px;width:60.25px;text-align:right;">2,377</div>
<div style="left:595px;top:513px;width:80px;height:21px;background:#5193c2;"></div>
<div style="left:611px;top:517.60px;font-size:10.1px;line-height:13px;color:#111;white-space:nowrap;letter-spacing:0.25px;width:60.25px;text-align:right;">2,369</div>
<div style="left:675px;top:513px;width:80px;height:21px;background:#79adcf;"></div>
<div style="left:692px;top:517.60px;font-size:10.1px;line-height:13px;color:#111;white-space:nowrap;letter-spacing:0.25px;width:60.25px;text-align:right;">2,391</div>
<div style="left:755px;top:513px;width:79px;height:21px;background:#5c9bc6;"></div>
<div style="left:772.2px;top:517.60px;font-size:10.1px;line-height:13px;color:#111;white-space:nowrap;letter-spacing:0.25px;width:60.25px;text-align:right;">2,301</div>
<div style="left:341px;top:534px;width:94px;height:21px;background:#f3f3f3;"></div>
<div style="left:341px;top:538.80px;font-size:10.1px;line-height:13px;color:#111;white-space:nowrap;font-weight:700;">Headsets</div>
<div style="left:435px;top:534px;width:80px;height:21px;background:#4a8fc0;"></div>
<div style="left:452px;top:538.60px;font-size:10.1px;line-height:13px;color:#111;white-space:nowrap;letter-spacing:0.25px;width:60.25px;text-align:right;">2,543</div>
<div style="left:515px;top:534px;width:80px;height:21px;background:#79adcf;"></div>
<div style="left:531.6px;top:538.60px;font-size:10.1px;line-height:13px;color:#111;white-space:nowrap;letter-spacing:0.25px;width:60.25px;text-align:right;">2,404</div>
<div style="left:595px;top:534px;width:80px;height:21px;background:#609dc7;"></div>
<div style="left:611px;top:538.60px;font-size:10.1px;line-height:13px;color:#111;white-space:nowrap;letter-spacing:0.25px;width:60.25px;text-align:right;">2,390</div>
<div style="left:675px;top:534px;width:80px;height:21px;background:#8dbad6;"></div>
<div style="left:692px;top:538.60px;font-size:10.1px;line-height:13px;color:#111;white-space:nowrap;letter-spacing:0.25px;width:60.25px;text-align:right;">2,359</div>
<div style="left:755px;top:534px;width:79px;height:21px;background:#b8d6e4;"></div>
<div style="left:772.2px;top:538.60px;font-size:10.1px;line-height:13px;color:#111;white-space:nowrap;letter-spacing:0.25px;width:60.25px;text-align:right;">2,292</div>
<div style="left:341px;top:559.80px;font-size:10.1px;line-height:13px;color:#111;white-space:nowrap;font-weight:700;">Helmets</div>
<div style="left:435px;top:555px;width:80px;height:21px;background:#5999c5;"></div>
<div style="left:452px;top:559.60px;font-size:10.1px;line-height:13px;color:#111;white-space:nowrap;letter-spacing:0.25px;width:60.25px;text-align:right;">2,320</div>
<div style="left:515px;top:555px;width:80px;height:21px;background:#428abd;"></div>
<div style="left:531.6px;top:559.60px;font-size:10.1px;line-height:13px;color:#fff;white-space:nowrap;letter-spacing:0.25px;width:60.25px;text-align:right;">2,394</div>
<div style="left:595px;top:555px;width:80px;height:21px;background:#5999c5;"></div>
<div style="left:611px;top:559.60px;font-size:10.1px;line-height:13px;color:#111;white-space:nowrap;letter-spacing:0.25px;width:60.25px;text-align:right;">2,417</div>
<div style="left:675px;top:555px;width:80px;height:21px;background:#86b6d3;"></div>
<div style="left:692px;top:559.60px;font-size:10.1px;line-height:13px;color:#111;white-space:nowrap;letter-spacing:0.25px;width:60.25px;text-align:right;">2,367</div>
<div style="left:755px;top:555px;width:79px;height:21px;background:#a4c9dd;"></div>
<div style="left:772.2px;top:559.60px;font-size:10.1px;line-height:13px;color:#111;white-space:nowrap;letter-spacing:0.25px;width:60.25px;text-align:right;">2,398</div>
<div style="left:341px;top:576px;width:94px;height:21px;background:#f3f3f3;"></div>
<div style="left:341px;top:580.80px;font-size:10.1px;line-height:13px;color:#111;white-space:nowrap;font-weight:700;">Hydration Packs</div>
<div style="left:435px;top:576px;width:80px;height:21px;background:#5798c4;"></div>
<div style="left:452px;top:580.60px;font-size:10.1px;line-height:13px;color:#111;white-space:nowrap;letter-spacing:0.25px;width:60.25px;text-align:right;">2,326</div>
<div style="left:515px;top:576px;width:80px;height:21px;background:#5999c5;"></div>
<div style="left:531.6px;top:580.60px;font-size:10.1px;line-height:13px;color:#111;white-space:nowrap;letter-spacing:0.25px;width:60.25px;text-align:right;">2,411</div>
<div style="left:595px;top:576px;width:80px;height:21px;background:#72a9cd;"></div>
<div style="left:611px;top:580.60px;font-size:10.1px;line-height:13px;color:#111;white-space:nowrap;letter-spacing:0.25px;width:60.25px;text-align:right;">2,360</div>
<div style="left:675px;top:576px;width:80px;height:21px;background:#609dc7;"></div>
<div style="left:692px;top:580.60px;font-size:10.1px;line-height:13px;color:#111;white-space:nowrap;letter-spacing:0.25px;width:60.25px;text-align:right;">2,273</div>
<div style="left:755px;top:576px;width:79px;height:21px;background:#5193c2;"></div>
<div style="left:772.2px;top:580.60px;font-size:10.1px;line-height:13px;color:#111;white-space:nowrap;letter-spacing:0.25px;width:60.25px;text-align:right;">2,364</div>
<div style="left:435px;top:597px;width:80px;height:2px;background:#5798c4;"></div>
<div style="left:515px;top:597px;width:80px;height:2px;background:#5e9cc7;"></div>
<div style="left:595px;top:597px;width:80px;height:2px;background:#2778b5;"></div>
<div style="left:675px;top:597px;width:80px;height:2px;background:#619ec8;"></div>
<div style="left:755px;top:597px;width:79px;height:2px;background:#5798c4;"></div>
<div style="left:841px;top:236px;width:15px;height:171px;background:#cdcdcd;"></div>
<svg style="left:845px;top:225px" width="8" height="6" viewBox="0 0 8 6"><path d="M0.6 5.4 L3.8 1.2 L7 5.4" stroke="#555" stroke-width="1.8" fill="none"/></svg>
<svg style="left:845px;top:593px" width="8" height="6" viewBox="0 0 8 6"><path d="M0.6 0.6 L3.8 4.8 L7 0.6" stroke="#555" stroke-width="1.8" fill="none"/></svg>
<div style="left:167px;top:609px;width:821px;height:1px;background:#a6a6a6;"></div>
<div style="left:167px;top:610px;width:821px;height:1px;background:#f8f8f8;"></div>
<svg style="left:175px;top:618px" width="14" height="14" viewBox="0 0 14 14"><rect x="0" y="12" width="2" height="2" fill="#9a9a9a"/><rect x="3" y="8" width="2" height="6" fill="#9a9a9a"/><rect x="6" y="5" width="2" height="9" fill="#9a9a9a"/><rect x="9" y="7" width="2" height="7" fill="#9a9a9a"/><rect x="12" y="6" width="2" height="8" fill="#9a9a9a"/><path d="M9 0 h3 v2 h2 v3 h-2 v2 h-3 v-2 h-2 v-3 h2 z" fill="#1fb14c"/><path d="M10 1 h1 v2 h2 v1 h-2 v2 h-1 v-2 h-2 v-1 h2 z" fill="#c9f2d6"/></svg>
<svg style="left:200px;top:618px" width="14" height="14" viewBox="0 0 14 14"><rect x="0" y="0" width="4" height="4" fill="#9a9a9a"/><rect x="5" y="0" width="4" height="4" fill="#9a9a9a"/><rect x="10" y="0" width="4" height="4" fill="#9a9a9a"/><rect x="0" y="5" width="4" height="4" fill="#9a9a9a"/><rect x="5" y="5" width="4" height="4" fill="#9a9a9a"/><rect x="10" y="5" width="4" height="4" fill="#9a9a9a"/><rect x="0" y="10" width="4" height="4" fill="#9a9a9a"/><rect x="5" y="10" width="4" height="4" fill="#9a9a9a"/><rect x="10" y="10" width="4" height="4" fill="#9a9a9a"/><rect x="6" y="0" width="8.4" height="8.4" fill="#f0f0f0"/><path d="M9 0 h3 v2 h2 v3 h-2 v2 h-3 v-2 h-2 v-3 h2 z" fill="#1fb14c"/><path d="M10 1 h1 v2 h2 v1 h-2 v2 h-1 v-2 h-2 v-1 h2 z" fill="#c9f2d6"/></svg>
<svg style="left:225px;top:619px" width="14" height="12" viewBox="0 0 14 12"><rect x="0" y="0.0" width="14" height="1.8" fill="#9a9a9a"/><rect x="0" y="3.2" width="14" height="1.8" fill="#9a9a9a"/><rect x="0" y="6.4" width="14" height="1.8" fill="#9a9a9a"/><rect x="0" y="9.600000000000001" width="14" height="1.8" fill="#9a9a9a"/></svg>
<div style="left:251px;top:609px;width:84px;height:29px;background:#fff;border:1px solid #9c9c9c;border-top:none;"></div>
<div style="left:257px;top:616.48px;font-size:11.6px;line-height:15px;color:#000;white-space:nowrap;font-weight:700;letter-spacing:0.15px;">Overview</div>
<svg style="left:321px;top:622px" width="8" height="5" viewBox="0 0 8 5"><path d="M0 0 H7.6 L3.8 4.6 Z" fill="#888"/></svg>
<div style="left:335px;top:611px;width:122px;height:26px;background:#e9e9e9;"></div>
<div style="left:395px;top:612px;width:1px;height:26px;background:#a8a8a8;"></div>
<div style="left:457px;top:612px;width:1px;height:26px;background:#a8a8a8;"></div>
<div style="left:340px;top:618.10px;font-size:10.4px;line-height:14px;color:#111;white-space:nowrap;">Build 1</div>
<svg style="left:383px;top:622px" width="8" height="5" viewBox="0 0 8 5"><path d="M0 0 H7.6 L3.8 4.6 Z" fill="#888"/></svg>
<div style="left:402px;top:618.10px;font-size:10.4px;line-height:14px;color:#111;white-space:nowrap;">Build 2</div>
<svg style="left:445px;top:622px" width="8" height="5" viewBox="0 0 8 5"><path d="M0 0 H7.6 L3.8 4.6 Z" fill="#888"/></svg>
<div style="left:9px;top:642px;width:979px;height:1px;background:#b4b4b4;"></div>
<div style="left:9px;top:643px;width:979px;height:1px;background:#f8f8f8;"></div>
</body></html>
